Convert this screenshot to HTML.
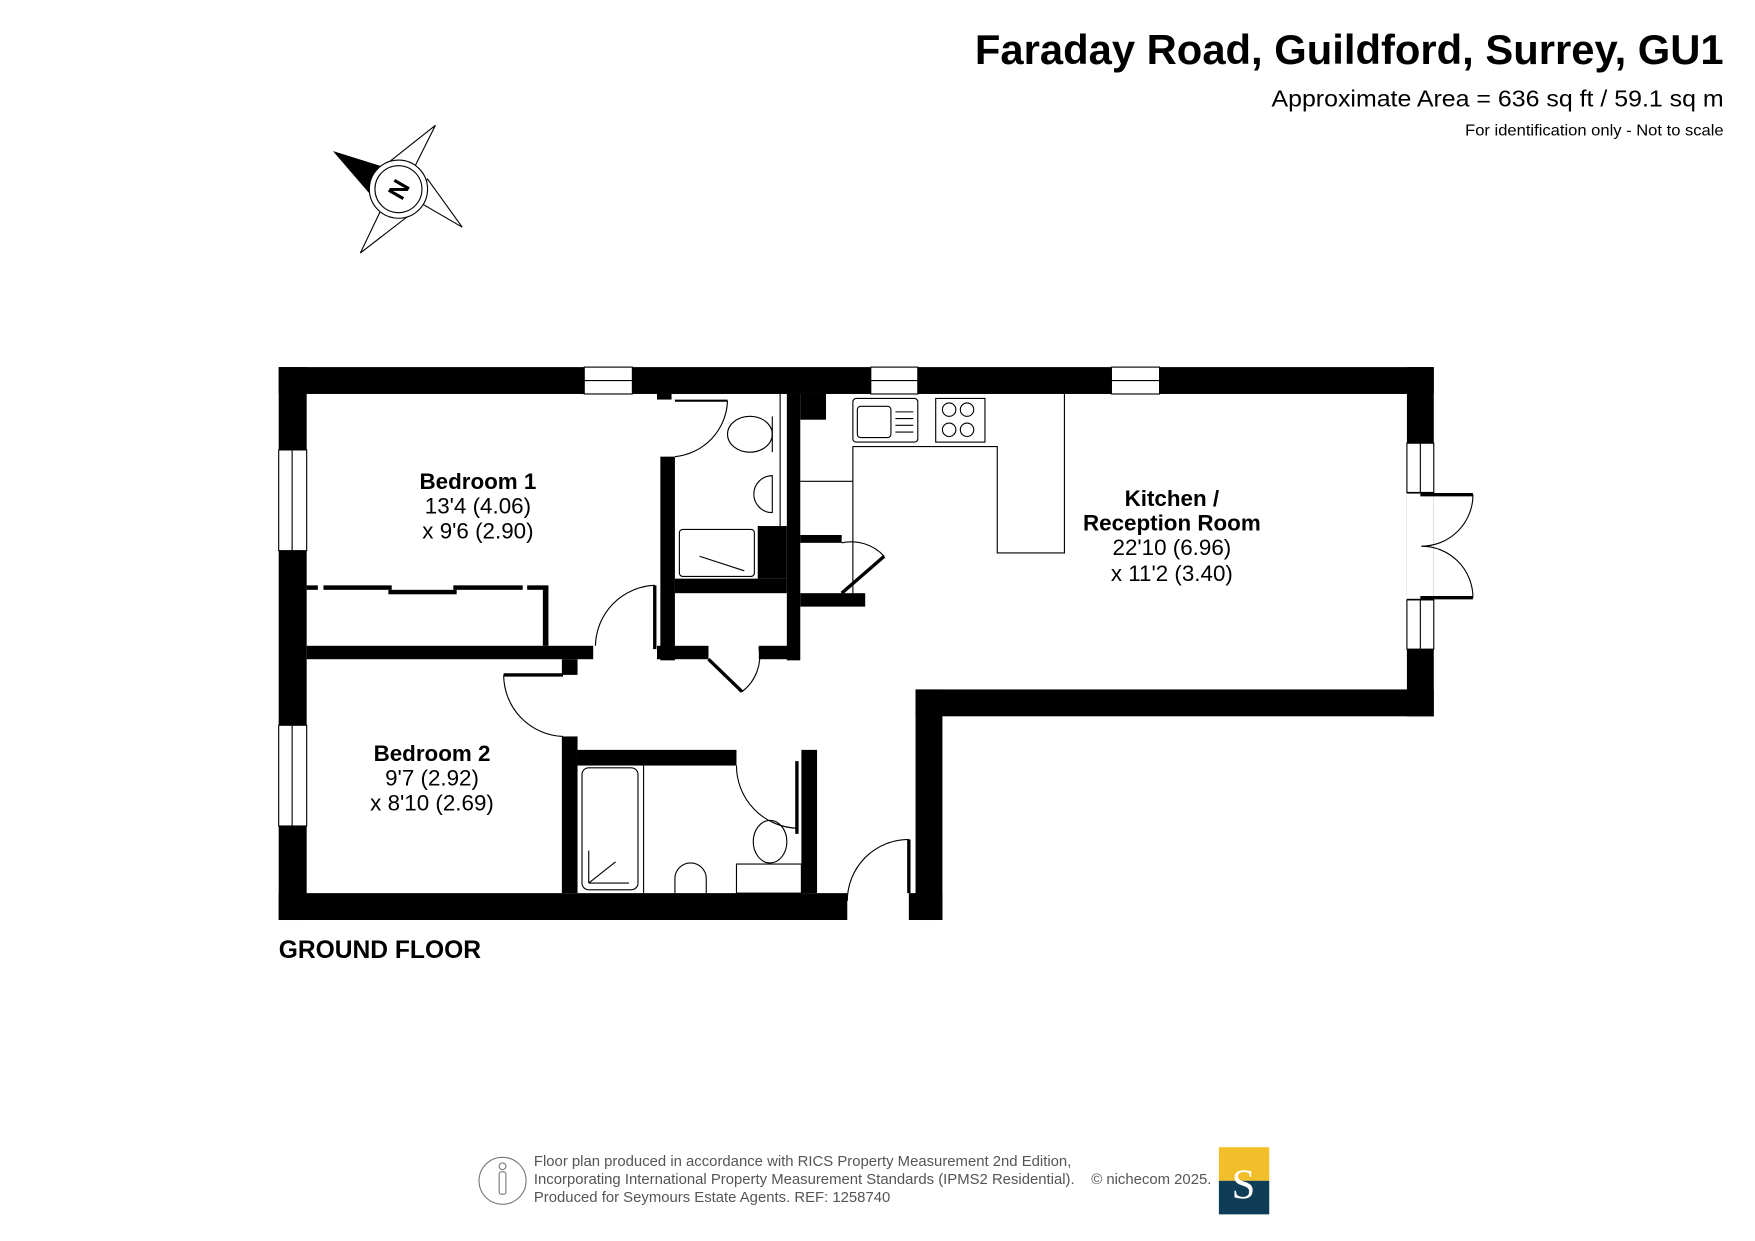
<!DOCTYPE html>
<html><head><meta charset="utf-8"><style>
html,body{margin:0;padding:0;background:#fff}
svg{display:block}
text{font-family:"Liberation Sans",Arial,sans-serif}
</style></head><body>
<svg width="1755" height="1241" viewBox="0 0 1568 1108.8" preserveAspectRatio="none" xmlns="http://www.w3.org/2000/svg">
<rect width="1568" height="1108.8" fill="#fff"/>
<text x="871" y="57" font-size="37" font-weight="bold" textLength="669" lengthAdjust="spacingAndGlyphs">Faraday Road, Guildford, Surrey, GU1</text>
<text x="1136" y="95" font-size="21" textLength="404" lengthAdjust="spacingAndGlyphs">Approximate Area = 636 sq ft / 59.1 sq m</text>
<text x="1309" y="121" font-size="14" textLength="231" lengthAdjust="spacingAndGlyphs">For identification only - Not to scale</text>

<g stroke="#000" stroke-width="1" fill="#fff">
<polygon points="389,112 366,158 346,146"/>
<polygon points="413,203 370,178 382,160"/>
<polygon points="322,226 344,180 366,192"/>
<polygon points="299,136 344,150 330,172" fill="#000"/>
<circle cx="356" cy="169" r="26"/>
<circle cx="356" cy="169" r="21"/>
</g>
<text x="356" y="177" font-size="22" font-weight="bold" text-anchor="middle" transform="rotate(-60 356 169)">N</text>

<g fill="#000">
<rect x="249" y="328" width="1032" height="24"/>
<rect x="249" y="328" width="25" height="494"/>
<rect x="249" y="798" width="508" height="24"/>
<rect x="812" y="798" width="30" height="24"/>
<rect x="818" y="616" width="24" height="206"/>
<rect x="818" y="616" width="463" height="24"/>
<rect x="1257" y="328" width="24" height="312"/>
<rect x="274" y="577" width="256" height="12"/>
<rect x="502" y="589" width="14" height="14"/>
<rect x="502" y="658" width="14" height="140"/>
<rect x="516" y="670" width="142" height="14"/>
<rect x="716" y="670" width="14" height="128"/>
<rect x="590" y="408" width="13" height="182"/>
<rect x="587" y="352" width="13" height="5"/>
<rect x="603" y="517" width="100" height="13"/>
<rect x="677" y="470" width="26" height="47"/>
<rect x="587" y="577" width="46" height="12"/>
<rect x="678" y="577" width="36" height="12"/>
<rect x="703" y="352" width="12" height="238"/>
<rect x="715" y="352" width="23" height="23"/>
<rect x="715" y="478" width="37" height="7"/>
<rect x="715" y="530" width="58" height="12"/>
<rect x="485" y="525" width="5" height="52"/>
<rect x="274" y="523" width="10" height="4"/>
<rect x="289" y="523" width="61" height="4"/>
<rect x="347" y="527" width="61" height="4"/>
<rect x="405" y="523" width="62" height="4"/>
<rect x="471" y="523" width="19" height="4"/>
</g>
<g fill="#fff" stroke="#000" stroke-width="1">
<rect x="522" y="328" width="43" height="24"/><line x1="522" y1="340" x2="565" y2="340"/>
<rect x="778" y="328" width="42" height="24"/><line x1="778" y1="340" x2="820" y2="340"/>
<rect x="993" y="328" width="43" height="24"/><line x1="993" y1="340" x2="1036" y2="340"/>
<rect x="249" y="402" width="25" height="90"/><line x1="261" y1="402" x2="261" y2="492"/>
<rect x="249" y="648" width="25" height="90"/><line x1="261" y1="648" x2="261" y2="738"/>
<rect x="1257" y="396" width="24" height="44"/><line x1="1269" y1="396" x2="1269" y2="440"/>
<rect x="1257" y="536" width="24" height="44"/><line x1="1269" y1="536" x2="1269" y2="580"/>
</g>
<rect x="1257" y="441" width="24" height="94" fill="#fff"/>
<g fill="none" stroke="#000" stroke-width="1">
<line x1="1269" y1="442" x2="1316" y2="442" stroke-width="3"/>
<line x1="1269" y1="534" x2="1316" y2="534" stroke-width="3"/>
<path d="M1316,442 A46,46 0 0 1 1270,488"/>
<path d="M1316,534 A46,46 0 0 0 1270,488"/>
<line x1="812" y1="750" x2="812" y2="798" stroke-width="3"/>
<path d="M812,750 A55,55 0 0 0 757,805"/>
<line x1="450" y1="603" x2="503" y2="603" stroke-width="3"/>
<path d="M450,603 A55,55 0 0 0 503,658"/>
<line x1="585" y1="523" x2="585" y2="580" stroke-width="3"/>
<path d="M585,523 A55,55 0 0 0 532,577"/>
<line x1="603" y1="358" x2="650" y2="358" stroke-width="2"/>
<path d="M650,358 A52,52 0 0 1 603,408"/>
<line x1="633" y1="589" x2="663" y2="618" stroke-width="3"/>
<path d="M663,618 A40,40 0 0 0 678,578"/>
<line x1="752" y1="530" x2="790" y2="497" stroke-width="3"/>
<path d="M790,497 A40,40 0 0 0 752,485"/>
<line x1="712" y1="680" x2="712" y2="745" stroke-width="3"/>
<path d="M658,684 A56,56 0 0 0 712,740"/>
<line x1="697" y1="352" x2="697" y2="470"/>
<ellipse cx="670" cy="388" rx="20" ry="16"/>
<line x1="690" y1="372" x2="690" y2="404"/>
<path d="M690,425 A16,16 0 0 0 690,458 Z"/>
<rect x="607" y="473" width="67" height="42" rx="3"/>
<line x1="625" y1="497" x2="665" y2="510"/>
<rect x="762" y="356" width="58" height="39" rx="3"/>
<rect x="766" y="363" width="30" height="28" rx="3"/>
<line x1="800" y1="368" x2="816" y2="368"/><line x1="800" y1="374" x2="816" y2="374"/><line x1="800" y1="380" x2="816" y2="380"/><line x1="800" y1="386" x2="816" y2="386"/>
<rect x="836" y="356" width="44" height="39"/>
<circle cx="848" cy="366" r="6"/><circle cx="864" cy="366" r="6"/><circle cx="848" cy="384" r="6"/><circle cx="864" cy="384" r="6"/>
<polyline points="762,530 762,399 891,399 891,494 951,494 951,352"/>
<line x1="715" y1="430" x2="762" y2="430"/>
<rect x="520" y="686" width="50" height="109" rx="6"/>
<line x1="575" y1="684" x2="575" y2="798"/>
<line x1="526" y1="789" x2="562" y2="789"/><line x1="526" y1="760" x2="526" y2="789"/><line x1="526" y1="789" x2="550" y2="770"/>
<path d="M603,798 L603,785 A14,14 0 0 1 631,785 L631,798"/>
<rect x="658" y="772" width="58" height="26"/>
<ellipse cx="688" cy="752" rx="15" ry="19"/>
</g>

<text x="427" y="437" font-size="20" font-weight="bold" text-anchor="middle">Bedroom 1</text>
<text x="427" y="459" font-size="20" text-anchor="middle">13'4 (4.06)</text>
<text x="427" y="481" font-size="20" text-anchor="middle">x 9'6 (2.90)</text>
<text x="386" y="680" font-size="20" font-weight="bold" text-anchor="middle">Bedroom 2</text>
<text x="386" y="702" font-size="20" text-anchor="middle">9'7 (2.92)</text>
<text x="386" y="724" font-size="20" text-anchor="middle">x 8'10 (2.69)</text>
<text x="1047" y="452" font-size="20" font-weight="bold" text-anchor="middle">Kitchen /</text>
<text x="1047" y="474" font-size="20" font-weight="bold" text-anchor="middle">Reception Room</text>
<text x="1047" y="496" font-size="20" text-anchor="middle">22'10 (6.96)</text>
<text x="1047" y="519" font-size="20" text-anchor="middle">x 11'2 (3.40)</text>
<text x="249" y="856" font-size="22" font-weight="bold">GROUND FLOOR</text>

<circle cx="449" cy="1055" r="21" fill="none" stroke="#777" stroke-width="1"/>
<circle cx="449" cy="1042" r="3" fill="none" stroke="#777"/>
<rect x="446" y="1047" width="6" height="20" rx="2" fill="none" stroke="#777"/>
<g fill="#555" font-size="13.3">
<text x="477" y="1042">Floor plan produced in accordance with RICS Property Measurement 2nd Edition,</text>
<text x="477" y="1058">Incorporating International Property Measurement Standards (IPMS2 Residential).</text>
<text x="477" y="1074">Produced for Seymours Estate Agents.   REF: 1258740</text>
<text x="975" y="1058">© nichecom 2025.</text>
</g>
<rect x="1089" y="1025" width="45" height="30" fill="#f2be2a"/>
<rect x="1089" y="1055" width="45" height="30" fill="#0f3d57"/>
<text x="1111" y="1071" font-size="38" fill="#fff" text-anchor="middle" style="font-family:'Liberation Serif',serif">S</text>
</svg>
</body></html>
